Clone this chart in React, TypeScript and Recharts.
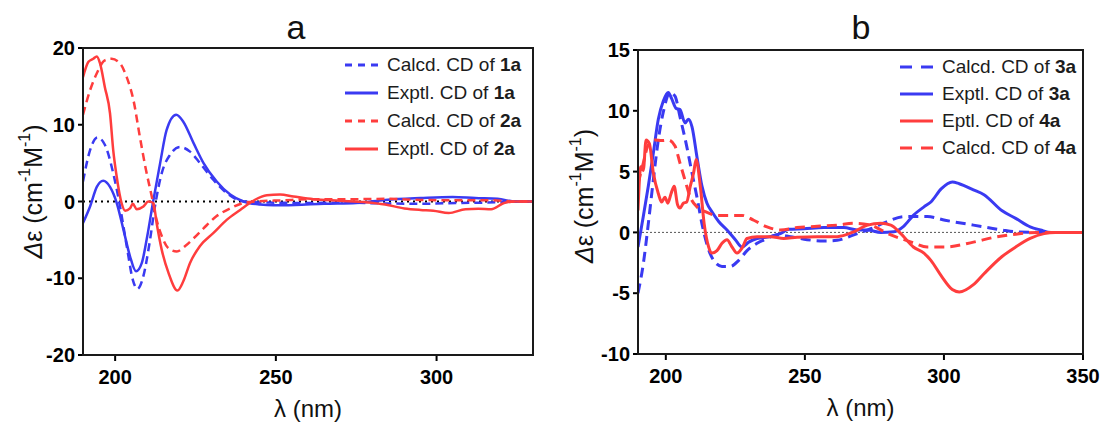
import { LineChart, Line, XAxis, YAxis, ReferenceLine, Legend } from "recharts";

type Pt = [number, number];

// panel a — [wavelength nm, Δε]
const calcd1a: Pt[] = [
  [190, 2.6], [192.2, 6.7], [194.5, 8.35], [196.8, 7.4], [199.4, 3.7], [201.5, -0.6],
  [203.6, -5.8], [205.5, -10.2], [206.9, -11.4], [208.8, -9.7], [210.7, -5.4], [212.4, -0.6],
  [214.5, 3.7], [217.1, 6.1], [220.2, 7.1], [223.3, 6.5], [226.4, 5.0], [230.6, 2.8],
  [234.7, 1.1], [238.9, 0.1], [243, -0.1], [250, -0.15], [260, -0.2], [270, -0.15],
  [284, -0.25], [295, -0.3], [306, -0.2], [319, -0.1], [325, 0], [330, 0],
];
const exptl1a: Pt[] = [
  [190, -2.8], [192.2, -0.65], [194.3, 1.9], [196.3, 2.7], [198.4, 1.9], [200.5, -0.2],
  [202.6, -3.7], [204.6, -7.1], [206.5, -9.1], [208.3, -8.0], [210, -4.5], [211.9, 0.2],
  [214, 5.0], [216, 9.3], [219, 11.3], [221.2, 10.4], [224.4, 7.6], [227.5, 5.0],
  [231.6, 2.6], [235.8, 0.9], [239.9, 0], [245.1, -0.4], [249.3, -0.5], [256, -0.45],
  [265, -0.3], [275, -0.2], [284, 0.2], [295, 0.45], [305, 0.6], [312, 0.45],
  [319, 0.35], [324.5, 0], [330, 0],
];
const calcd2a: Pt[] = [
  [190, 11.3], [192.2, 14.5], [194.3, 16.7], [196.8, 18.4], [198.9, 18.6], [201.5, 18.0],
  [203.6, 16.2], [205.7, 13.2], [207.7, 8.4], [209.6, 4.1], [211.4, 0.65], [212.9, -2.4],
  [214.5, -4.5], [216.6, -6.1], [219.2, -6.5], [221.8, -5.8], [224.4, -4.8], [227.5, -3.5],
  [231.6, -1.9], [235.8, -0.9], [239.9, -0.2], [244, 0], [252, 0.15], [262, 0.3],
  [274, 0.3], [284, 0.35], [295, 0.2], [305, 0.15], [317, 0.15], [325, 0], [330, 0],
];
const exptl2a: Pt[] = [
  [190, 16.2], [191.7, 18.2], [193.2, 18.6], [194.3, 18.9], [195.3, 18.0], [196.8, 14.9],
  [198.4, 11.5], [199.4, 6.7], [200.5, 3.2], [202, -0.2], [203.1, -1.2], [204.6, -0.9],
  [205.5, -0.3], [206.7, -1.0], [208.8, -0.65], [210.3, 0], [211.9, -0.2], [212.9, -2.8],
  [214.5, -6.3], [216.6, -9.3], [219.4, -11.6], [221.2, -10.4], [223.3, -8.0], [226.4, -5.8],
  [230.6, -4.1], [234.7, -2.4], [238.9, -1.1], [243, 0.1], [247.2, 0.8], [251.3, 0.9],
  [255.5, 0.65], [261.7, 0.3], [270, 0.1], [278, -0.1], [284, -0.4], [290, -0.9],
  [295, -1.1], [299, -1.2], [303.8, -1.5], [309, -1.0], [313, -0.95], [317, -1.0],
  [321, -0.2], [324.5, 0], [330, 0],
];

// panel b
const calcd3a: Pt[] = [
  [190, -5.0], [191.9, -2.6], [193.7, 0.7], [195.5, 4.3], [197.3, 7.6], [199.1, 9.9],
  [201.5, 11.5], [203.3, 11.2], [205.1, 9.5], [207.5, 7.1], [209.4, 4.9], [211.2, 2.9],
  [213, 0.7], [214.8, -1.0], [217.2, -2.3], [220.2, -2.8], [223.2, -2.8], [226.2, -2.3],
  [229.2, -1.5], [232.8, -0.9], [236.4, -0.5], [240, -0.2], [244.8, -0.35], [250.8, -0.6],
  [256.8, -0.7], [261.6, -0.65], [267.6, -0.2], [273.7, 0.3], [279.7, 0.9], [285.7, 1.3],
  [290, 1.3], [294, 1.3], [300.4, 1.0], [310.6, 0.6], [320.8, 0.2], [325.8, 0.05],
  [335, 0], [350, 0],
];
const exptl3a: Pt[] = [
  [190, -1.2], [191.9, 1.3], [193.7, 3.8], [195.5, 6.5], [197.3, 9.3], [199.1, 10.8],
  [200.9, 11.5], [202.1, 11.0], [203.7, 10.2], [205.1, 10.1], [206.9, 9.0], [208.1, 9.3],
  [209.4, 8.7], [211.2, 6.2], [213, 3.8], [214.8, 2.4], [216.6, 1.7], [219, 0.9],
  [222, 0.2], [225, -0.6], [227.4, -1.2], [229.8, -0.8], [232.8, -0.5], [237.6, -0.35],
  [241.2, -0.1], [244.2, 0.25], [249.6, 0.3], [256.8, 0.4], [264, 0.4], [268.8, 0.2],
  [272.5, 0.2], [277.3, 0], [282, 0.05], [285.5, 0.5], [289, 1.4], [292.8, 2.1],
  [295.3, 2.5], [299.1, 3.6], [303, 4.15], [305.5, 4.0], [310.6, 3.5], [314.4, 3.1],
  [320.8, 1.8], [325.8, 1.15], [331, 0.45], [334.7, 0.2], [338.5, 0], [350, 0],
];
const eptl4a: Pt[] = [
  [190, 1.8], [191, 5.4], [191.9, 5.1], [192.9, 7.6], [194.1, 7.3], [195.5, 4.9],
  [197.3, 3.2], [198.5, 2.5], [199.7, 2.9], [200.7, 2.4], [201.9, 3.2], [203, 3.8],
  [204.2, 2.3], [205.1, 2.0], [206.3, 2.4], [207.5, 2.5], [208.8, 3.8], [210, 4.9],
  [210.9, 6.0], [212.4, 3.8], [213.8, 0.7], [215.4, -1.2], [216.6, -1.7], [218.4, -1.5],
  [220.2, -0.9], [222, -0.6], [223.8, -1.2], [225.6, -1.7], [227.4, -1.3], [229.2, -0.5],
  [232.8, -0.35], [237.6, -0.35], [242.4, -0.5], [247.2, -0.4], [254.4, -0.35], [261.6, -0.35],
  [267.6, 0.05], [272.5, 0.6], [277.3, 0.75], [280.9, 0.6], [284.5, -0.1], [289, -1.2],
  [292.8, -1.7], [295.3, -2.3], [299.1, -3.6], [303, -4.7], [305.5, -4.9], [310.6, -4.3],
  [314.4, -3.4], [320.8, -2.0], [325.8, -1.2], [331, -0.5], [336, -0.1], [340, 0], [350, 0],
];
const calcd4a: Pt[] = [
  [190, 4.0], [191.9, 5.7], [193.7, 7.2], [196.1, 7.6], [198.5, 7.55], [200.9, 7.6],
  [203.3, 7.1], [205.1, 5.7], [206.9, 4.3], [208.8, 2.9], [211.2, 2.1], [214.2, 1.7],
  [218.4, 1.4], [223.2, 1.4], [227.4, 1.4], [231.6, 1.0], [236.4, 0.45], [241.2, 0.2],
  [247.2, 0.4], [254.4, 0.5], [261.6, 0.6], [267.6, 0.75], [273.7, 0.6], [277.3, 0.2],
  [280.9, -0.2], [285.7, -0.6], [289, -0.85], [294, -1.2], [300.4, -1.2], [310.6, -0.8],
  [318.2, -0.4], [325.8, -0.15], [333.5, 0], [350, 0],
];

const xTicksA = [200, 250, 300];
const yTicksA = [-20, -10, 0, 10, 20];
const xTicksB = [200, 250, 300, 350];
const yTicksB = [-10, -5, 0, 5, 10, 15];

const BLUE = "#3a3af2";
const RED = "#ff3d3d";
const FONT = '"Liberation Sans", Arial, Helvetica, sans-serif';
const Y_AXIS_W = 60;
const X_AXIS_H = 30;

type Series = { name: string; bold: string; pts: Pt[]; color: string; dashed: boolean };

const seriesA: Series[] = [
  { name: "Calcd. CD of", bold: "1a", pts: calcd1a, color: BLUE, dashed: true },
  { name: "Exptl. CD of", bold: "1a", pts: exptl1a, color: BLUE, dashed: false },
  { name: "Calcd. CD of", bold: "2a", pts: calcd2a, color: RED, dashed: true },
  { name: "Exptl. CD of", bold: "2a", pts: exptl2a, color: RED, dashed: false },
];
const seriesB: Series[] = [
  { name: "Calcd. CD of", bold: "3a", pts: calcd3a, color: BLUE, dashed: true },
  { name: "Exptl. CD of", bold: "3a", pts: exptl3a, color: BLUE, dashed: false },
  { name: "Eptl. CD of", bold: "4a", pts: eptl4a, color: RED, dashed: false },
  { name: "Calcd. CD of", bold: "4a", pts: calcd4a, color: RED, dashed: true },
];

const toRows = (pts: Pt[]) => pts.map(([x, y]) => ({ x, y }));

const LegendBox = ({ items, dash, rowH }: { items: Series[]; dash: string; rowH: number }) => (
  <div style={{ fontFamily: FONT, fontSize: 19, color: "#1c1c1c", whiteSpace: "nowrap" }}>
    {items.map((s, i) => (
      <div key={i} style={{ display: "flex", alignItems: "center", height: rowH }}>
        <svg width={33} height={6} style={{ marginRight: 9 }}>
          <line x1={0} y1={3} x2={33} y2={3} stroke={s.color} strokeWidth={3}
            strokeDasharray={s.dashed ? dash : undefined} />
        </svg>
        <span>
          {s.name} <b>{s.bold}</b>
        </span>
      </div>
    ))}
  </div>
);

const yLabel = (dx: number, dy: number) => (props: any) => {
  const vb = props.viewBox || {};
  const cx = (vb.x ?? 0) + dx;
  const cy = (vb.y ?? 0) + (vb.height ?? 0) / 2 + dy;
  return (
    <text x={cx} y={cy} transform={`rotate(-90, ${cx}, ${cy})`} textAnchor="middle"
      dominantBaseline="central" fontFamily={FONT} fontSize={25} fill="#111">
      <tspan fontStyle="italic">Δ</tspan>
      <tspan>ε (cm</tspan>
      <tspan fontSize={16} dy={-9}>-1</tspan>
      <tspan dy={9}>M</tspan>
      <tspan fontSize={16} dy={-9}>-1</tspan>
      <tspan dy={9}>)</tspan>
    </text>
  );
};

type PanelProps = {
  left: number; width: number; title: string; titleX: number;
  series: Series[]; xDomain: [number, number]; xTicks: number[];
  yDomain: [number, number]; yTicks: number[];
  margin: { top: number; right: number; bottom: number; left: number };
  dash: string; lineW: number; legendPos: { left: number; top: number }; rowH: number;
  zeroStroke: string; zeroW: number; zeroDash: string; yLab: [number, number];
};

const Panel = (p: PanelProps) => {
  const tick = { fill: "#000", fontSize: 20, fontWeight: 700, fontFamily: FONT };
  // plot box, for the frame around the plot area
  const boxL = p.margin.left + Y_AXIS_W;
  const boxT = p.margin.top;
  const boxW = p.width - boxL - p.margin.right;
  const boxH = 424 - p.margin.bottom - X_AXIS_H - boxT;
  return (
    <div style={{ position: "absolute", left: p.left, top: 0, width: p.width, height: 424 }}>
      <LineChart width={p.width} height={424} margin={p.margin}>
        <XAxis type="number" dataKey="x" domain={p.xDomain} ticks={p.xTicks} allowDataOverflow
          height={X_AXIS_H} tick={tick} tickSize={6} tickMargin={9}
          axisLine={{ stroke: "#000", strokeWidth: 2 }} tickLine={{ stroke: "#000", strokeWidth: 2 }}
          label={{ value: "λ (nm)", position: "bottom", offset: 15, fill: "#111", fontSize: 24, fontFamily: FONT }} />
        <YAxis type="number" domain={p.yDomain} ticks={p.yTicks} allowDataOverflow width={Y_AXIS_W}
          tick={tick} tickSize={5} tickMargin={3} interval={0}
          axisLine={{ stroke: "#000", strokeWidth: 2 }} tickLine={{ stroke: "#000", strokeWidth: 2 }}
          label={yLabel(p.yLab[0], p.yLab[1])} />
        <ReferenceLine y={0} stroke={p.zeroStroke} strokeWidth={p.zeroW} strokeDasharray={p.zeroDash} />
        {p.series.map((s, i) => (
          <Line key={i} data={toRows(s.pts)} dataKey="y" type="monotone" dot={false}
            stroke={s.color} strokeWidth={p.lineW} strokeDasharray={s.dashed ? p.dash : undefined}
            isAnimationActive={false} />
        ))}
        <Legend layout="horizontal" verticalAlign="middle" align="center" width={200}
          wrapperStyle={{ left: p.legendPos.left, top: p.legendPos.top }}
          content={() => <LegendBox items={p.series} dash={p.dash === "8 5" ? "7 6" : "12 9"} rowH={p.rowH} />} />
      </LineChart>
      <svg width={p.width} height={424}
        style={{ position: "absolute", left: 0, top: 0, zIndex: 10, pointerEvents: "none" }}>
        <text x={p.titleX} y={39} textAnchor="middle" fontFamily={FONT} fontSize={34} fill="#111">
          {p.title}
        </text>
        <rect x={boxL} y={boxT} width={boxW} height={boxH} fill="none" stroke="#1a1a1a" strokeWidth={2} />
      </svg>
    </div>
  );
};

export default function App() {
  return (
    <div style={{ position: "absolute", left: 0, top: 0, width: 1103, height: 424, background: "#fff" }}>
      <Panel left={0} width={550} title="a" titleX={296} series={seriesA}
        xDomain={[190, 330]} xTicks={xTicksA} yDomain={[-20, 20]} yTicks={yTicksA}
        margin={{ top: 48, right: 17, bottom: 39, left: 23 }} dash="8 5" lineW={2.5}
        legendPos={{ left: 345, top: 51 }} rowH={28}
        zeroStroke="#000" zeroW={2} zeroDash="2 4" yLab={[10, -10]} />
      <Panel left={555} width={548} title="b" titleX={306} series={seriesB}
        xDomain={[190, 350]} xTicks={xTicksB} yDomain={[-10, 15]} yTicks={yTicksB}
        margin={{ top: 50, right: 20, bottom: 40, left: 23 }} dash="10 6" lineW={3}
        legendPos={{ left: 345, top: 53 }} rowH={27}
        zeroStroke="#555" zeroW={1} zeroDash="2 2" yLab={[6, -6]} />
    </div>
  );
}
